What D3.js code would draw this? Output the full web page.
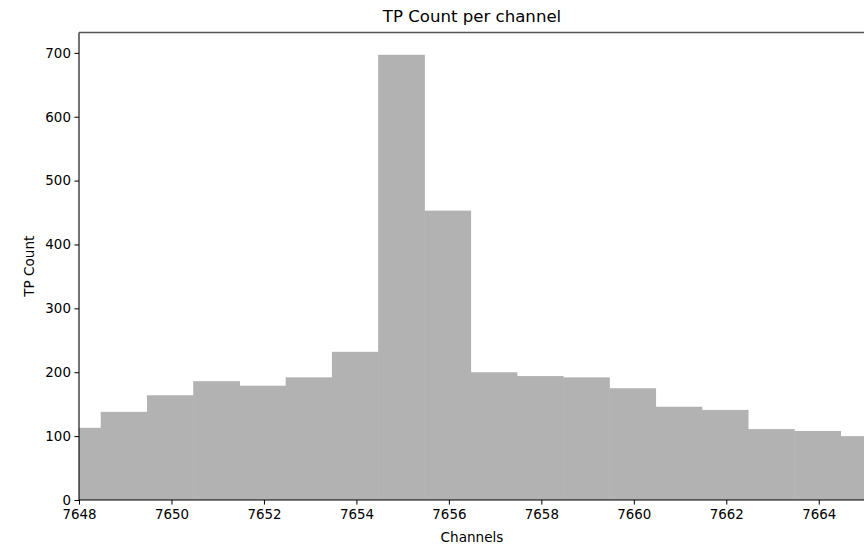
<!DOCTYPE html>
<html>
<head>
<meta charset="utf-8">
<script src="https://cdn.jsdelivr.net/npm/d3@7"></script>
<style>
  html, body { margin: 0; padding: 0; background: #fff; }
  svg { display: block; }
  text { font-family: "DejaVu Sans", sans-serif; fill: #000; }
</style>
</head>
<body>
<div id="chart"></div>
<script>
// ---- data ----
const binLeftEdges = [7647.47, 7648.47, 7649.47, 7650.47, 7651.47, 7652.47, 7653.47, 7654.47, 7655.47,
                      7656.47, 7657.47, 7658.47, 7659.47, 7660.47, 7661.47, 7662.47, 7663.47, 7664.47];
const binWidth = 1.0;
const tpCounts = [113, 138, 164, 186, 179, 192, 232, 697, 453,
                  200, 194, 192, 175, 146, 141, 111, 108, 100];
const xTicks = [7648, 7650, 7652, 7654, 7656, 7658, 7660, 7662, 7664];
const yTicks = [0, 100, 200, 300, 400, 500, 600, 700];
const xDomain = [7648, 7665];
const titleText = "TP Count per channel";
const xLabel = "Channels";
const yLabel = "TP Count";

// ---- layout ----
const W = 864, H = 547;
const m = { left: 79, right: 865, top: 32.5, bottom: 500 };

const svg = d3.select("#chart").append("svg").attr("width", W).attr("height", H);

const x = d3.scaleLinear().domain(xDomain).range([m.left, m.right]);
const y = d3.scaleLinear().domain([0, d3.max(tpCounts) * 1.05]).range([m.bottom, m.top]);

svg.append("defs").append("clipPath").attr("id", "plotclip")
  .append("rect").attr("x", m.left).attr("y", m.top)
  .attr("width", m.right - m.left).attr("height", m.bottom - m.top);

const bars = binLeftEdges.map((e, i) => ({ x0: e, x1: e + binWidth, v: tpCounts[i] }));

svg.append("g").attr("clip-path", "url(#plotclip)")
  .selectAll("rect").data(bars).join("rect")
  .attr("x", d => x(d.x0))
  .attr("width", d => x(d.x1) - x(d.x0) + 0.5)
  .attr("y", d => y(d.v))
  .attr("height", d => y(0) - y(d.v))
  .attr("fill", "#b2b2b2");

// axes
const xAxis = d3.axisBottom(x).tickValues(xTicks).tickFormat(d3.format("d")).tickSize(4.6).tickPadding(4.5);
const gx = svg.append("g").attr("transform", `translate(0,${m.bottom})`).call(xAxis);
gx.select(".domain").remove();
gx.selectAll("text").style("font-size", "13.4px").style("font-family", "DejaVu Sans").attr("fill", "#000");
gx.selectAll("line").attr("stroke", "#000");

const yAxis = d3.axisLeft(y).tickValues(yTicks).tickFormat(d3.format("d")).tickSize(4.6).tickPadding(3.5);
const gy = svg.append("g").attr("transform", `translate(${m.left},0)`).call(yAxis);
gy.select(".domain").remove();
gy.selectAll("text").style("font-size", "13.4px").style("font-family", "DejaVu Sans").attr("fill", "#000");
gy.selectAll("line").attr("stroke", "#000");

// spines
svg.append("line").attr("x1", m.left).attr("x2", m.right).attr("y1", m.bottom).attr("y2", m.bottom)
  .attr("stroke", "#000").attr("stroke-width", 1.1);
svg.append("line").attr("x1", m.left).attr("x2", m.left).attr("y1", m.top).attr("y2", m.bottom)
  .attr("stroke", "#000").attr("stroke-width", 1.1);
svg.append("line").attr("x1", m.left).attr("x2", m.right).attr("y1", m.top).attr("y2", m.top)
  .attr("stroke", "#555").attr("stroke-width", 1.5);
svg.append("line").attr("x1", m.right).attr("x2", m.right).attr("y1", m.top).attr("y2", m.bottom)
  .attr("stroke", "#000").attr("stroke-width", 1.1);

// labels
const cx = (m.left + m.right) / 2;
svg.append("text").attr("x", cx).attr("y", 22).attr("text-anchor", "middle")
  .style("font-size", "16.6px").text(titleText);
svg.append("text").attr("x", cx).attr("y", 542).attr("text-anchor", "middle")
  .style("font-size", "13.6px").text(xLabel);
svg.append("text").attr("transform", `translate(34,${(m.top + m.bottom) / 2}) rotate(-90)`)
  .attr("text-anchor", "middle").style("font-size", "13.6px").text(yLabel);
</script>
</body>
</html>
